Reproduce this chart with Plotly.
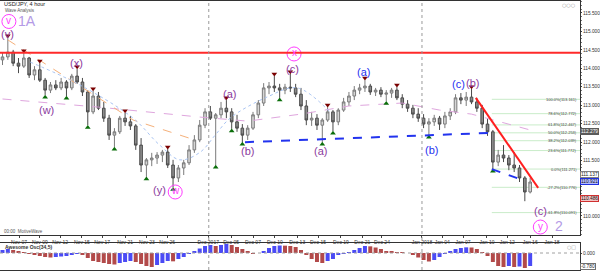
import plotly.graph_objects as go

W, H = 600, 271
def px(x): return x / W
def py(y): return 1 - y / H

# ---------------- data ----------------
bars = list(range(100))
opens = [114.23, 114.31, 114.44, 114.14, 114.06, 114.28, 113.82, 113.96, 113.68, 113.41,
         113.55, 113.47, 113.63, 113.47, 113.79, 113.63, 113.36, 112.82, 113.25, 112.92,
         112.65, 112.19, 112.28, 112.65, 112.55, 112.44, 111.92, 111.38, 111.52, 111.57,
         111.65, 111.73, 111.38, 111.03, 111.30, 111.44, 111.79, 112.06, 112.46, 112.82,
         112.65, 112.74, 112.92, 112.82, 112.55, 112.38, 112.19, 112.38, 112.74, 113.06,
         113.47, 113.52, 113.47, 113.41, 113.49, 113.47, 113.30, 112.98, 112.60, 112.65,
         112.46, 112.60, 112.82, 112.55, 112.87, 113.09, 113.25, 113.41, 113.47, 113.52,
         113.36, 113.41, 113.30, 113.33, 113.41, 113.20, 113.03, 112.92, 112.76, 112.65,
         112.49, 112.55, 112.65, 112.49, 112.71, 112.82, 113.20, 113.14, 113.22, 113.09,
         112.92, 112.49, 112.28, 111.46, 111.65, 111.57, 111.38, 111.30, 111.03, 110.65]
highs = [114.42, 114.82, 114.50, 114.28, 114.42, 114.31, 114.06, 114.14, 113.74, 113.63,
         113.68, 113.74, 113.68, 113.85, 113.98, 113.74, 113.41, 113.39, 113.36, 113.09,
         112.74, 112.38, 112.71, 112.79, 112.71, 112.49, 112.11, 111.57, 111.71, 111.73,
         111.79, 111.81, 111.52, 111.38, 111.52, 111.92, 112.19, 112.60, 112.92, 112.98,
         112.79, 113.09, 113.14, 112.92, 112.74, 112.49, 112.46, 112.82, 113.14, 113.60,
         113.63, 113.79, 113.58, 113.58, 113.85, 113.58, 113.47, 113.14, 112.82, 112.76,
         112.65, 112.95, 112.87, 112.92, 113.20, 113.36, 113.52, 113.58, 113.68, 113.58,
         113.47, 113.49, 113.41, 113.47, 113.49, 113.30, 113.14, 113.01, 112.92, 112.76,
         112.65, 112.74, 112.71, 112.82, 112.92, 113.30, 113.33, 113.36, 113.44, 113.20,
         113.01, 112.65, 112.33, 111.79, 111.92, 111.65, 111.73, 111.38, 111.08, 111.03]
lows = [114.09, 114.23, 114.06, 113.87, 114.01, 113.74, 113.68, 113.63, 113.28, 113.33,
        113.41, 113.41, 113.25, 113.41, 113.58, 113.25, 112.46, 112.76, 112.87, 112.55,
        112.06, 111.87, 112.22, 112.44, 112.33, 111.79, 111.19, 111.06, 111.35, 111.41,
        111.46, 111.30, 110.78, 110.92, 111.11, 111.38, 111.71, 112.00, 112.38, 112.60,
        111.38, 112.65, 112.65, 112.36, 112.28, 112.00, 112.06, 112.33, 112.65, 112.98,
        113.30, 113.36, 113.20, 113.30, 113.36, 113.22, 112.87, 112.46, 112.44, 112.33,
        112.00, 112.55, 112.30, 112.46, 112.82, 112.98, 113.14, 113.30, 113.36, 113.28,
        113.25, 113.22, 113.11, 113.20, 113.14, 112.92, 112.82, 112.65, 112.55, 112.38,
        112.19, 112.44, 112.33, 112.38, 112.60, 112.76, 113.03, 112.98, 113.03, 112.82,
        112.38, 112.17, 111.27, 111.35, 111.46, 111.24, 111.19, 110.92, 110.40, 110.61]
closes = [114.31, 114.44, 114.14, 114.06, 114.28, 113.82, 113.96, 113.68, 113.41, 113.55,
          113.47, 113.63, 113.47, 113.79, 113.63, 113.36, 112.82, 113.25, 112.92, 112.65,
          112.19, 112.28, 112.65, 112.55, 112.44, 111.92, 111.38, 111.52, 111.57, 111.65,
          111.73, 111.38, 111.03, 111.30, 111.44, 111.79, 112.06, 112.46, 112.82, 112.65,
          112.74, 112.92, 112.82, 112.55, 112.38, 112.19, 112.38, 112.74, 113.06, 113.47,
          113.52, 113.47, 113.41, 113.49, 113.47, 113.30, 112.98, 112.60, 112.65, 112.46,
          112.60, 112.82, 112.55, 112.87, 113.09, 113.25, 113.41, 113.47, 113.52, 113.36,
          113.41, 113.30, 113.33, 113.41, 113.20, 113.03, 112.92, 112.76, 112.65, 112.49,
          112.55, 112.65, 112.49, 112.71, 112.82, 113.20, 113.14, 113.22, 113.09, 112.92,
          112.49, 112.28, 111.46, 111.65, 111.57, 111.38, 111.30, 111.03, 110.65, 110.92]

ao_values = [0.18, 0.24, 0.18, 0.12, 0.06, -0.06, -0.12, -0.18, -0.24, -0.27,
             -0.24, -0.21, -0.18, -0.12, -0.06, -0.12, -0.30, -0.48, -0.54, -0.60,
             -0.66, -0.69, -0.60, -0.54, -0.48, -0.54, -0.66, -0.78, -0.84, -0.72,
             -0.60, -0.48, -0.50, -0.36, -0.24, -0.06, 0.12, 0.27, 0.42, 0.48,
             0.42, 0.48, 0.54, 0.48, 0.36, 0.24, 0.12, -0.03, 0.00, 0.12,
             0.30, 0.42, 0.45, 0.44, 0.42, 0.36, 0.18, -0.12, -0.36, -0.54,
             -0.60, -0.48, -0.36, -0.12, -0.04, 0.06, 0.18, 0.30, 0.42, 0.40,
             0.33, 0.24, 0.12, 0.09, 0.06, 0.03, 0.00, -0.12, -0.27, -0.42,
             -0.51, -0.42, -0.24, -0.06, 0.12, 0.24, 0.30, 0.34, 0.33, 0.24,
             0.06, -0.18, -0.54, -0.78, -0.84, -0.78, -0.84, -0.81, -0.90, -0.78]

tick_pos = [3.1, 7.0, 10.8, 14.9, 18.7, 23.0, 27.1, 30.9, 38.6, 42.9, 47.0, 51.1,
            55.3, 59.2, 63.5, 67.5, 71.2, 78.7, 82.5, 86.4, 90.9, 94.7, 99.0, 103.1]
tick_text = ["Nov 07", "Nov 09", "Nov 12", "Nov 15", "Nov 17", "Nov 21", "Nov 23", "Nov 26",
             "Dec 2017", "Dec 05", "Dec 07", "Dec 10", "Dec 13", "Dec 15", "Dec 19", "Dec 21",
             "Dec 24", "Jan 2018", "Jan 04", "Jan 07", "Jan 10", "Jan 12", "Jan 16", "Jan 18"]
period_separators = [38.7, 78.7]
price_ticks = [110.0, 111.5, 112.0, 112.5, 113.0, 113.5, 114.0, 114.5, 115.0, 115.5]

up_fractals = [1, 4, 7, 14, 17, 23, 31, 42, 51, 54, 61, 68, 74, 88]
down_fractals = [8, 12, 16, 21, 27, 32, 40, 43, 45, 52, 60, 62, 72, 80, 92]

resistance_level = 114.42
blue_line1_x = [45.5, 91.5]
blue_line1_y = [112.00, 112.25]
blue_line2_x = [91.8, 98.0]
blue_line2_y = [111.27, 110.95]
red_trend_x = [88.8, 100.5]
red_trend_y = [113.20, 110.76]

fib_start = 91.8
fib_levels = [113.161, 112.772, 112.467, 112.253, 112.039, 111.772, 111.271, 110.776, 110.091]
fib_labels = ["100.0%(113.161)", "78.6%(112.772)", "61.8%(112.467)", "50.0%(112.253)",
              "38.2%(112.039)", "23.6%(111.772)", "0.0%(111.271)", "-27.2%(110.776)",
              "-61.8%(110.091)"]

ma_pink_x = [0, 18, 37, 46, 56, 65, 75, 82, 88, 93, 99]
ma_pink_y = [113.17, 112.95, 112.68, 112.57, 112.76, 112.98, 113.06, 112.87, 112.76, 112.57, 112.33]
ma_orange_x = [1.0, 12.7, 24.5, 36.1]
ma_orange_y = [114.77, 113.68, 112.60, 112.06]
ma_blue_x = [5.2, 14.5, 24.5, 29.5, 33.3, 37.1, 39.9, 42.7, 49.6, 55.3, 61.4]
ma_blue_y = [114.17, 113.55, 112.65, 111.92, 111.52, 111.73, 112.19, 112.65, 113.22, 113.47, 112.82]

PURPLE = "#8b3a9e"
BLUE = "#1f30f0"
PINK = "#ff3cff"
LAV = "#b49ae6"
wave_text = ["(v)", "(w)", "(x)", "(y)", "(a)", "(b)", "(c)", "(a)", "(a)", "(b)", "(c)", "(b)", "(c)"]
wave_x = [1.0, 8.2, 13.8, 29.5, 42.5, 45.9, 54.5, 59.6, 67.8, 80.4, 85.6, 88.1, 100.9]
wave_y = [114.93, 112.87, 114.15, 110.70, 113.30, 111.76, 113.98, 111.76, 113.90, 111.79, 113.57, 113.60, 110.13]
wave_color = [PURPLE, PURPLE, PURPLE, PURPLE, PURPLE, PURPLE, PURPLE, PURPLE, BLUE, BLUE, BLUE, PURPLE, PURPLE]

circle_text = ["v", "w", "x", "y"]
circle_x = [1.2, 32.4, 54.7, 100.9]
circle_y = [115.27, 110.65, 114.39, 109.70]
degree_text = ["1A", "2"]
degree_x = [4.6, 104.4]
degree_y = [115.27, 109.72]

axis_boxes = [("112.279", 112.279, "#5a5a5a", "#5a5a5a", "white"),
              ("111.137", 111.137, "white", "#808080", "#222"),
              ("110.921", 110.921, "#b4bcff", "#2030e0", "#111"),
              ("110.486", 110.486, "#f2c4c4", "#d03030", "#111")]

X_RANGE = [-0.469, 108.35]
Y_RANGE = [109.484, 115.825]
AO_RANGE = [-1.02, 0.60]
FONT = "Liberation Sans"

# ---------------- figure ----------------
fig = go.Figure()

fig.add_trace(go.Scatter(x=ma_pink_x, y=ma_pink_y, mode="lines", hoverinfo="skip",
                         line=dict(color="#dfa6de", width=1, dash="dash"), showlegend=False))
fig.add_trace(go.Scatter(x=ma_orange_x, y=ma_orange_y, mode="lines", hoverinfo="skip",
                         line=dict(color="#f5b07a", width=1, dash="dash"), showlegend=False))
fig.add_trace(go.Scatter(x=ma_blue_x, y=ma_blue_y, mode="lines", hoverinfo="skip",
                         line=dict(color="#a9c4f2", width=1, dash="dot", shape="spline"), showlegend=False))

fig.add_trace(go.Candlestick(
    x=bars, open=opens, high=highs, low=lows, close=closes,
    increasing=dict(line=dict(color="#7a7a7a", width=1), fillcolor="#d6d6d6"),
    decreasing=dict(line=dict(color="#4a4a4a", width=1), fillcolor="#8c8c8c"),
    whiskerwidth=0, showlegend=False, hoverinfo="skip"))

fig.add_trace(go.Scatter(x=up_fractals, y=[highs[i] + 0.06 for i in up_fractals], mode="markers",
                         marker=dict(symbol="triangle-down", size=5, color="#7a0000"),
                         showlegend=False, hoverinfo="skip"))
fig.add_trace(go.Scatter(x=down_fractals, y=[lows[i] - 0.06 for i in down_fractals], mode="markers",
                         marker=dict(symbol="triangle-up", size=5, color="#0a6e0a"),
                         showlegend=False, hoverinfo="skip"))

for lx, ly in ((blue_line1_x, blue_line1_y), (blue_line2_x, blue_line2_y)):
    fig.add_trace(go.Scatter(x=lx, y=ly, mode="lines", line=dict(color="#2233ee", width=2, dash="dash"),
                             showlegend=False, hoverinfo="skip"))
fig.add_trace(go.Scatter(x=red_trend_x, y=red_trend_y, mode="lines", line=dict(color="#ff1f1f", width=2),
                         showlegend=False, hoverinfo="skip"))

fig.add_trace(go.Scatter(x=circle_x, y=circle_y, mode="markers",
                         marker=dict(symbol="circle-open", size=14, color=PINK, line=dict(width=1, color=PINK)),
                         showlegend=False, hoverinfo="skip"))

# Awesome oscillator
ao_colors = ["#4b4bf5"] + ["#4b4bf5" if ao_values[i] > ao_values[i - 1] else "#b24a4a"
                          for i in range(1, len(ao_values))]
fig.add_trace(go.Bar(x=bars, y=ao_values, marker=dict(color=ao_colors, line=dict(width=0)),
                     xaxis="x2", yaxis="y2", showlegend=False, hoverinfo="skip"))

shapes = []
shapes.append(dict(type="line", xref="x domain", yref="y", x0=0, x1=1,
                   y0=resistance_level, y1=resistance_level, line=dict(color="#ff2a2a", width=2)))
for lv in fib_levels:
    shapes.append(dict(type="line", xref="x", yref="y", x0=fib_start, x1=X_RANGE[1], y0=lv, y1=lv,
                       line=dict(color="#c9ecc9", width=1), layer="below"))
for sx in period_separators:
    shapes.append(dict(type="line", xref="x", yref="paper", x0=sx, x1=sx, y0=py(270), y1=py(1),
                       line=dict(color="#9a9a9a", width=1, dash="dot")))
shapes.append(dict(type="line", xref="x2 domain", yref="y2", x0=0, x1=1, y0=0, y1=0,
                   line=dict(color="#a0a0a0", width=1, dash="dot")))

ann = []
for t, x, y, c in zip(wave_text, wave_x, wave_y, wave_color):
    ann.append(dict(x=x, y=y, xref="x", yref="y", text=t, showarrow=False,
                    font=dict(family=FONT, size=11, color=c)))
for t, x, y in zip(circle_text, circle_x, circle_y):
    ann.append(dict(x=x, y=y, xref="x", yref="y", text=t, showarrow=False, yshift=1,
                    font=dict(family=FONT, size=10, color=PINK)))
for t, x, y in zip(degree_text, degree_x, degree_y):
    ann.append(dict(x=x, y=y, xref="x", yref="y", text=t, showarrow=False,
                    font=dict(family=FONT, size=14, color=LAV)))
for t, lv in zip(fib_labels, fib_levels):
    ann.append(dict(x=X_RANGE[1], y=lv, xref="x", yref="y", text=t, showarrow=False,
                    xanchor="right", yanchor="middle", xshift=-1,
                    font=dict(family=FONT, size=4, color="#444")))
for t, lv, bg, bc, fc in axis_boxes:
    ann.append(dict(x=px(580), y=lv, xref="paper", yref="y", text=t, showarrow=False,
                    xanchor="left", yanchor="middle", bgcolor=bg, bordercolor=bc, borderwidth=1,
                    borderpad=0, font=dict(family=FONT, size=4.8, color=fc)))
ann.append(dict(x=px(580), y=-0.78, xref="paper", yref="y2", text="-0.780", showarrow=False,
                xanchor="left", yanchor="middle", bgcolor="white", bordercolor="#707070", borderwidth=1,
                borderpad=0, font=dict(family=FONT, size=4.8, color="#222")))
ann.append(dict(x=px(2), y=py(4), xref="paper", yref="paper", text="USD/JPY, 4 hour", showarrow=False,
                xanchor="left", yanchor="middle", font=dict(family=FONT, size=5.5, color="#222")))
ann.append(dict(x=px(3), y=py(10.5), xref="paper", yref="paper", text="Wave Analysis", showarrow=False,
                xanchor="left", yanchor="middle", font=dict(family=FONT, size=4.5, color="#555")))
ann.append(dict(x=px(2), y=py(231), xref="paper", yref="paper", text="00:00  MotiveWave", showarrow=False,
                xanchor="left", yanchor="middle", font=dict(family=FONT, size=4.5, color="#555")))
ann.append(dict(x=px(3), y=py(247), xref="paper", yref="paper", text="<b>Awesome Osc(34,5)</b>",
                showarrow=False, xanchor="left", yanchor="middle",
                font=dict(family=FONT, size=5, color="#333")))
ann.append(dict(x=px(578), y=py(5), xref="paper", yref="paper", text="○○○", showarrow=False,
                xanchor="right", yanchor="middle", font=dict(family="DejaVu Sans", size=5, color="#999")))
ann.append(dict(x=px(578), y=py(246.5), xref="paper", yref="paper", text="○□", showarrow=False,
                xanchor="right", yanchor="middle", font=dict(family="DejaVu Sans", size=5, color="#999")))

fig.update_layout(
    width=W, height=H, margin=dict(l=0, r=0, t=0, b=0),
    paper_bgcolor="white", plot_bgcolor="white",
    font=dict(family=FONT, size=6, color="#222"),
    bargap=0.25,
    shapes=shapes, annotations=ann,
    xaxis=dict(domain=[0, px(580)], range=X_RANGE, anchor="y", rangeslider=dict(visible=False),
               tickmode="array", tickvals=tick_pos, ticktext=tick_text, ticks="outside", ticklen=2,
               tickangle=0, tickcolor="#444", tickfont=dict(size=5, color="#333"), showgrid=False,
               zeroline=False, showline=True, linecolor="#333", linewidth=1, mirror=True, automargin=False),
    yaxis=dict(domain=[py(235), py(1)], range=Y_RANGE, side="right", anchor="x",
               tickmode="array", tickvals=price_ticks, tickformat=".3f", ticks="outside", ticklen=1,
               tickcolor="#444", tickfont=dict(size=4.8, color="#333"), showgrid=False, zeroline=False,
               showline=True, linecolor="#333", linewidth=1, mirror=True, automargin=False,
               minor=dict(ticks="outside", ticklen=1, dtick=0.1, tickcolor="#777")),
    xaxis2=dict(domain=[0, px(580)], range=X_RANGE, anchor="y2", matches="x", showticklabels=False,
                showgrid=False, zeroline=False, showline=True, linecolor="#333", linewidth=1, mirror=True,
                automargin=False),
    yaxis2=dict(domain=[py(270), py(243)], range=AO_RANGE, side="right", anchor="x2",
                tickmode="array", tickvals=[0], ticktext=["0.000"], ticks="outside", ticklen=1,
                tickfont=dict(size=4.8, color="#333"), showgrid=False, zeroline=False,
                showline=True, linecolor="#333", linewidth=1, mirror=True, automargin=False),
)

fig.write_html("out.html")
